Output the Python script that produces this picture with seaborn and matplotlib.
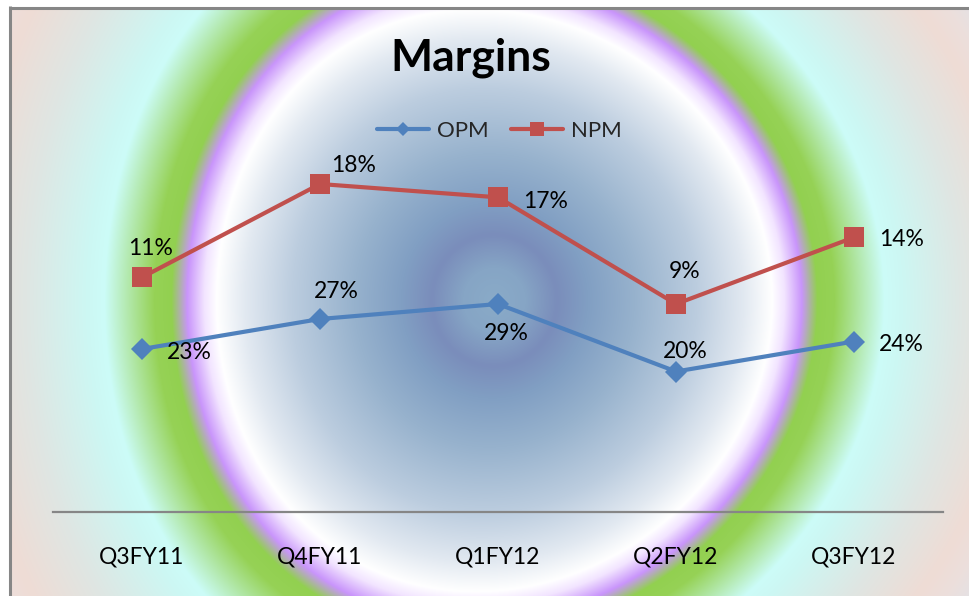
import numpy as np
import pandas as pd
import matplotlib
matplotlib.use("Agg")
import matplotlib.pyplot as plt
import seaborn as sns
from matplotlib.colors import to_rgb

# ---- data -------------------------------------------------------------
quarters = ["Q3FY11", "Q4FY11", "Q1FY12", "Q2FY12", "Q3FY12"]
opm = [23, 27, 29, 20, 24]
npm = [11, 18, 17, 9, 14]

# label offsets (points) from each marker: (dx, dy)
opm_offsets = [(34, -1.5), (12, 21), (6, -20), (6.5, 16), (34, -0.7)]
npm_offsets = [(6.5, 22), (24.5, 15), (34, -1.5), (6, 25), (34, 0)]

OPM_COLOR = "#4F81BD"
NPM_COLOR = "#C0504D"

sns.set_theme(style="white")
plt.rcParams["font.family"] = ["Lato", "DejaVu Sans"]

W, H = 969, 596
fig = plt.figure(figsize=(W / 100, H / 100), dpi=100)
fig.patch.set_facecolor("white")

# ---- radial halo background ------------------------------------------
bg = fig.add_axes([0, 0, 1, 1], zorder=0)
bg.set_xlim(0, W)
bg.set_ylim(H, 0)
bg.axis("off")

stops = [
    (0.00, "#8aabc8"), (0.10, "#86a5c5"), (0.20, "#7a8dbb"), (0.30, "#819fc3"),
    (0.45, "#97b2cd"), (0.65, "#bccddf"), (0.80, "#e2e9f1"), (0.89, "#ffffff"),
    (0.93, "#f2e4ff"), (0.985, "#c995fb"), (1.035, "#92d050"), (1.09, "#96d256"),
    (1.25, "#ccfcf8"), (1.31, "#cdf7f3"), (1.50, "#dfe6e3"), (1.68, "#efdcd5"),
    (1.76, "#ecdfdc"), (1.92, "#dbe5ef"), (3.00, "#dbe5ef"),
]
pos = np.array([s[0] for s in stops])
cols = np.array([to_rgb(s[1]) for s in stops])

x0, y0 = 12, 9
yy, xx = np.mgrid[y0:H, x0:W].astype(float)
cy = 300.0
dy = yy - cy
cx = 494.0 - 0.00022 * dy ** 2
t = np.hypot((xx - cx) / 312.0, dy / 327.0)
img = np.stack([np.interp(t, pos, cols[:, k]) for k in range(3)], axis=-1)
bg.imshow(img, extent=(x0, W, H, y0), interpolation="bilinear", aspect="auto")
bg.set_xlim(0, W)
bg.set_ylim(H, 0)

# chart frame (top and left edges visible)
bg.plot([10.5, W + 5], [7.5, 7.5], color="#868686", lw=2.2, solid_capstyle="butt")
bg.plot([10.5, 10.5], [6.4, H + 5], color="#868686", lw=2.2, solid_capstyle="butt")

# ---- plot area --------------------------------------------------------
top_px, bot_px = 150, 512
ax = fig.add_axes([53 / W, 1 - bot_px / H, 890 / W, (bot_px - top_px) / H], zorder=2)
ax.patch.set_alpha(0)
ax2 = ax.twinx()
ax2.patch.set_alpha(0)

df = pd.DataFrame({"quarter": quarters, "OPM": opm, "NPM": npm})
xs = np.arange(len(quarters))

sns.lineplot(x=xs, y=df["OPM"], ax=ax, color=OPM_COLOR, linewidth=3.0,
             marker="D", markersize=11, markeredgewidth=0,
             markerfacecolor=OPM_COLOR, label="OPM", legend=False)
sns.lineplot(x=xs, y=df["NPM"], ax=ax2, color=NPM_COLOR, linewidth=3.0,
             marker="s", markersize=14.5, markeredgewidth=0,
             markerfacecolor=NPM_COLOR, label="NPM", legend=False)

ax.set_xlim(-0.5, len(quarters) - 0.5)
ax.set_ylim(1.27, 49.53)
ax2.set_ylim(-6.6, 20.55)

for a in (ax, ax2):
    for side in ("top", "right", "left", "bottom"):
        a.spines[side].set_visible(False)
    a.set_ylabel("")
    a.set_yticks([])
ax.spines["bottom"].set_visible(True)
ax.spines["bottom"].set_color("#868686")
ax.spines["bottom"].set_linewidth(1.6)

ax.set_xticks(xs)
ax.set_xticklabels(quarters, fontsize=16.5, color="black")
ax.tick_params(axis="x", length=0, pad=25)
ax.set_xlabel("")

# data labels
cap_half = 6.0  # half cap height in points, for baseline placement
for i, v in enumerate(opm):
    dx, dyo = opm_offsets[i]
    ax.annotate(f"{v}%", (xs[i], v), xytext=(dx, dyo - cap_half),
                textcoords="offset points", ha="center", va="baseline",
                fontsize=16.5, color="black", zorder=5)
for i, v in enumerate(npm):
    dx, dyo = npm_offsets[i]
    ax2.annotate(f"{v}%", (xs[i], v), xytext=(dx, dyo - cap_half),
                 textcoords="offset points", ha="center", va="baseline",
                 fontsize=16.5, color="black", zorder=5)

# legend
h1, l1 = ax.get_legend_handles_labels()
h2, l2 = ax2.get_legend_handles_labels()
fig.legend(h1 + h2, l1 + l2, loc="center",
           bbox_to_anchor=(499 / W, 1 - 131 / H), ncol=2, frameon=False,
           handlelength=2.35, handletextpad=0.35, columnspacing=1.0,
           markerscale=0.65, fontsize=16)

# title
fig.text(471 / W, 1 - 70 / H, "Margins", ha="center", va="baseline",
         fontsize=32, fontweight="bold", color="black")

fig.savefig("out.png", dpi=100)
